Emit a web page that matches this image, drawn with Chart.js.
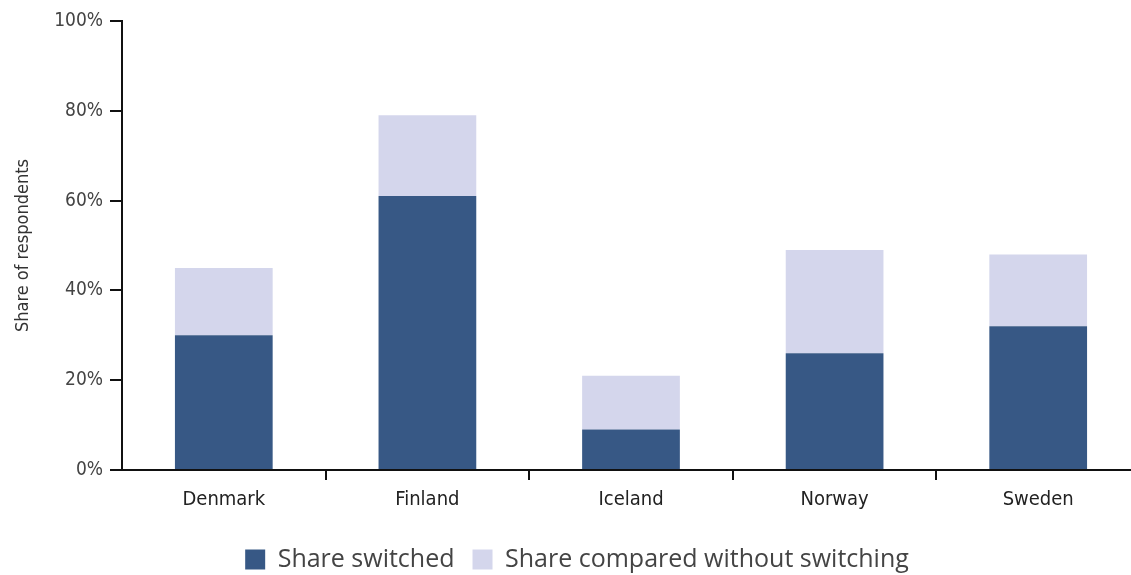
<!DOCTYPE html>
<html>
<head>
<meta charset="utf-8">
<script src="https://cdn.jsdelivr.net/npm/chart.js@4/dist/chart.umd.min.js"></script>
<style>
  html, body { margin: 0; padding: 0; background: #fff; overflow: hidden; }
  #wrap { width: 1150px; height: 583px; position: relative; }
</style>
</head>
<body>
<div id="wrap"><canvas id="switchChart"></canvas></div>
<script>
// Dados
const countries = ['Denmark', 'Finland', 'Iceland', 'Norway', 'Sweden'];
const shareSwitched = [30, 61, 9, 26, 32];
const shareCompared = [15, 18, 12, 23, 16];
const yTicks = [0, 20, 40, 60, 80, 100];

// Fonte condensada para os eixos
const narrow = '"DejaVu Sans", sans-serif';

const chartConfig = {
    type: 'bar',
    data: {
        labels: countries,
        datasets: [{
            label: 'Share switched',
            data: shareSwitched,
            backgroundColor: '#375885',
            barPercentage: 0.48,
            categoryPercentage: 1
        }, {
            label: 'Share compared without switching',
            data: shareCompared,
            backgroundColor: '#d4d6ec',
            barPercentage: 0.48,
            categoryPercentage: 1
        }]
    },
    options: {
        responsive: true,
        maintainAspectRatio: false,
        animation: false,
        layout: { padding: { top: 21, right: 10, left: 14, bottom: 1 } },
        plugins: {
            tooltip: { enabled: false },
            legend: {
                position: 'bottom',
                labels: {
                    boxWidth: 20,
                    boxHeight: 20,
                    padding: 18,
                    color: '#444',
                    font: { family: '"Open Sans", sans-serif', size: 25 }
                }
            }
        },
        scales: {
            x: {
                stacked: true,
                afterFit: (scale) => { scale.height = 59; },
                border: { color: '#111', width: 2 },
                grid: {
                    offset: true,
                    drawOnChartArea: false,
                    tickLength: 10,
                    lineWidth: 2,
                    color: (ctx) => ctx.index === 0 ? 'rgba(0,0,0,0)' : '#111'
                },
                ticks: { color: '#222', padding: 8, font: { family: narrow, size: 20, weight: 'normal condensed' } }
            },
            y: {
                stacked: true,
                min: 0,
                max: 100,
                afterBuildTicks: (scale) => { scale.ticks = yTicks.map(v => ({ value: v })); },
                afterFit: (scale) => { scale.width = 108; },
                border: { color: '#111', width: 2 },
                grid: { drawOnChartArea: false, tickLength: 12, color: '#111', lineWidth: 2 },
                ticks: {
                    color: '#444',
                    padding: 7,
                    font: { family: narrow, size: 19, weight: 'normal condensed' },
                    callback: (v) => v + '%'
                },
                title: {
                    display: true,
                    text: 'Share of respondents',
                    color: '#333',
                    padding: { top: 0, bottom: 0 },
                    font: { family: narrow, size: 18, weight: 'normal condensed', lineHeight: 1 }
                }
            }
        }
    }
};

const switchChart = new Chart(document.getElementById('switchChart'), chartConfig);
</script>
</body>
</html>
